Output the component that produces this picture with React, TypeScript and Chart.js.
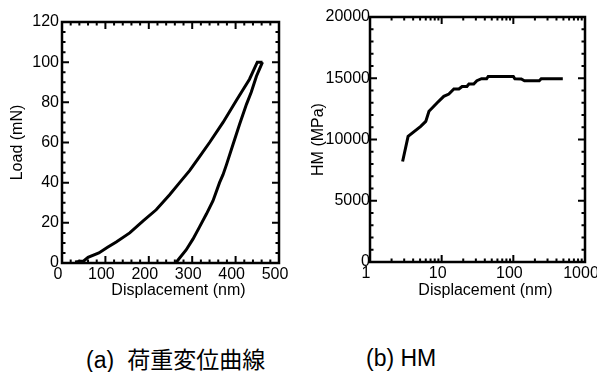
import React, { useEffect, useRef } from "react";
import { Chart, registerables } from "chart.js";
Chart.register(...registerables);

// ---- (a) Load - displacement curve ----
const loadingDisp = [30, 50, 60, 85, 105, 125, 156, 187, 217, 248, 271, 294, 317, 340, 371, 402, 432, 450, 462];
const loadingLoad = [0.5, 1, 2.8, 5, 7.8, 10.5, 15, 21, 26.5, 34, 40, 46, 53, 60, 70, 81, 91.5, 100, 100];
const unloadingDisp = [462, 458, 448, 436, 425, 409, 394, 379, 371, 363, 348, 333, 317, 302, 286, 271, 262];
const unloadingLoad = [100, 98, 93, 85, 79, 69, 59, 49, 44, 40, 31, 24.5, 18, 12, 6.5, 2.5, 0];
const aXTicks = [0, 100, 200, 300, 400, 500];
const aYTicks = [0, 20, 40, 60, 80, 100, 120];

// ---- (b) HM vs displacement ----
const hmDisp = [2.85, 3.4, 5.1, 6.0, 6.65, 8.6, 10.7, 12.6, 14.8, 17.4, 19.3, 22.5, 24, 28, 31, 36, 42.4, 44.6, 100, 105, 129, 143, 230, 245, 490];
const hmValue = [8200, 10250, 11070, 11480, 12300, 12980, 13520, 13710, 14120, 14120, 14330, 14330, 14530, 14530, 14800, 14960, 14960, 15150, 15150, 14960, 14940, 14800, 14800, 14960, 14960];
const bXTicks = [1, 10, 100, 1000];
const bYTicks = [0, 5000, 10000, 15000, 20000];

const xTitle = "Displacement (nm)";
const aYTitle = "Load (mN)";
const bYTitle = "HM (MPa)";
const captionA = ["(a)", "荷重変位曲線"];
const captionB = "(b) HM";

const FONT = '"Liberation Sans", Arial, Helvetica, sans-serif';

function range(a: number, b: number, step: number) {
  const out: number[] = [];
  for (let v = a; v <= b + 1e-9; v += step) out.push(v);
  return out;
}
function logMinor(decades: number[]) {
  const out: number[] = [];
  decades.slice(0, -1).forEach((d) => {
    for (let k = 2; k <= 9; k++) out.push(d * k);
  });
  return out;
}

const frameTicks = {
  id: "frameTicks",
  afterDatasetsDraw(chart: any, _args: any, opts: any) {
    const { ctx, chartArea: a } = chart;
    const xs = chart.scales.x;
    const ys = chart.scales.y;
    ctx.save();
    ctx.strokeStyle = "#000";
    ctx.lineWidth = 2;
    ctx.beginPath();
    const tx = (vals: number[], len: number) =>
      vals.forEach((v) => {
        const p = xs.getPixelForValue(v);
        ctx.moveTo(p, a.bottom);
        ctx.lineTo(p, a.bottom - len);
        ctx.moveTo(p, a.top);
        ctx.lineTo(p, a.top + len);
      });
    const ty = (vals: number[], len: number) =>
      vals.forEach((v) => {
        const p = ys.getPixelForValue(v);
        ctx.moveTo(a.left, p);
        ctx.lineTo(a.left + len, p);
        ctx.moveTo(a.right, p);
        ctx.lineTo(a.right - len, p);
      });
    tx(opts.xMajor, 7);
    tx(opts.xMinor, 3.5);
    ty(opts.yMajor, 7);
    ty(opts.yMinor, 3.5);
    ctx.stroke();
    ctx.lineWidth = 2.5;
    ctx.strokeRect(a.left, a.top, a.right - a.left, a.bottom - a.top);
    // x-axis title (slightly right of centre, as in the original figure)
    ctx.fillStyle = "#000";
    ctx.font = `16px ${FONT}`;
    ctx.textAlign = "center";
    ctx.textBaseline = "middle";
    ctx.fillText(opts.xTitle, (a.left + a.right) / 2 + 8, 291);
    ctx.restore();
  },
};

const tickFont = { family: FONT, size: 16 };

function makeA(canvas: HTMLCanvasElement) {
  return new Chart(canvas, {
    type: "line",
    data: {
      datasets: [
        {
          data: loadingDisp.map((x, i) => ({ x, y: loadingLoad[i] })),
          borderColor: "#000",
          borderWidth: 3,
          pointRadius: 0,
          tension: 0,
        },
        {
          data: unloadingDisp.map((x, i) => ({ x, y: unloadingLoad[i] })),
          borderColor: "#000",
          borderWidth: 3,
          pointRadius: 0,
          tension: 0,
        },
      ],
    },
    options: {
      animation: false,
      responsive: false,
      devicePixelRatio: 1,
      layout: { padding: { left: 0, top: 22, right: 21, bottom: 0 } },
      plugins: {
        legend: { display: false },
        tooltip: { enabled: false },
        frameTicks: {
          xMajor: aXTicks,
          xMinor: range(0, 500, 20),
          yMajor: aYTicks,
          yMinor: range(0, 120, 5),
          xTitle,
        },
      } as any,
      scales: {
        x: {
          type: "linear",
          min: 0,
          max: 500,
          afterBuildTicks: (s: any) => {
            s.ticks = aXTicks.map((v) => ({ value: v }));
          },
          afterFit: (s: any) => {
            s.height = 37;
            s.paddingLeft = 0;
            s.paddingRight = 0;
          },
          grid: { display: false, drawTicks: false },
          border: { display: false },
          ticks: {
            padding: 2,
            labelOffset: -4,
            maxRotation: 0,
            color: "#000",
            font: tickFont,
            callback: (v: any) => String(v),
          },
          title: { display: false },
        },
        y: {
          type: "linear",
          min: 0,
          max: 120,
          afterBuildTicks: (s: any) => {
            s.ticks = aYTicks.map((v) => ({ value: v }));
          },
          afterFit: (s: any) => {
            s.width = 62;
            s.paddingTop = 0;
            s.paddingBottom = 0;
          },
          grid: { display: false, drawTicks: false },
          border: { display: false },
          ticks: {
            padding: 3,
            color: "#000",
            font: tickFont,
            callback: (v: any) => String(v),
          },
          title: {
            display: true,
            text: aYTitle,
            color: "#000",
            font: { family: FONT, size: 16 },
            padding: { top: 8, bottom: 0 },
          },
        },
      },
    },
    plugins: [frameTicks],
  } as any);
}

function makeB(canvas: HTMLCanvasElement) {
  return new Chart(canvas, {
    type: "line",
    data: {
      datasets: [
        {
          data: hmDisp.map((x, i) => ({ x, y: hmValue[i] })),
          borderColor: "#000",
          borderWidth: 3,
          pointRadius: 0,
          tension: 0,
        },
      ],
    },
    options: {
      animation: false,
      responsive: false,
      devicePixelRatio: 1,
      layout: { padding: { left: 0, top: 17, right: 12, bottom: 0 } },
      plugins: {
        legend: { display: false },
        tooltip: { enabled: false },
        frameTicks: {
          xMajor: bXTicks,
          xMinor: logMinor(bXTicks),
          yMajor: bYTicks,
          yMinor: range(0, 20000, 1000),
          xTitle,
        },
      } as any,
      scales: {
        x: {
          type: "logarithmic",
          min: 1,
          max: 1000,
          afterBuildTicks: (s: any) => {
            s.ticks = bXTicks.map((v) => ({ value: v }));
          },
          afterFit: (s: any) => {
            s.height = 38;
            s.paddingLeft = 0;
            s.paddingRight = 0;
          },
          grid: { display: false, drawTicks: false },
          border: { display: false },
          ticks: {
            padding: 2,
            labelOffset: -4,
            maxRotation: 0,
            autoSkip: false,
            color: "#000",
            font: tickFont,
            callback: (v: any) => String(v),
          },
          title: { display: false },
        },
        y: {
          type: "linear",
          min: 0,
          max: 20000,
          afterBuildTicks: (s: any) => {
            s.ticks = bYTicks.map((v) => ({ value: v }));
          },
          afterFit: (s: any) => {
            s.width = 70;
            s.paddingTop = 0;
            s.paddingBottom = 0;
          },
          grid: { display: false, drawTicks: false },
          border: { display: false },
          ticks: {
            padding: 0,
            color: "#000",
            font: tickFont,
            callback: (v: any) => String(v),
          },
          title: {
            display: true,
            text: bYTitle,
            color: "#000",
            font: { family: FONT, size: 16 },
            padding: { top: 9, bottom: 0 },
          },
        },
      },
    },
    plugins: [frameTicks],
  } as any);
}

export default function App() {
  const refA = useRef<HTMLCanvasElement>(null);
  const refB = useRef<HTMLCanvasElement>(null);
  useEffect(() => {
    const a = makeA(refA.current!);
    const b = makeB(refB.current!);
    return () => {
      a.destroy();
      b.destroy();
    };
  }, []);
  return (
    <div
      style={{
        position: "absolute",
        left: 0,
        top: 0,
        width: 597,
        height: 372,
        overflow: "hidden",
        background: "#fff",
      }}
    >
      <canvas ref={refA} width={300} height={300} style={{ position: "absolute", left: 0, top: 0 }} />
      <canvas ref={refB} width={297} height={300} style={{ position: "absolute", left: 300, top: 0 }} />
      <div
        style={{
          position: "absolute",
          left: 86,
          top: 343,
          lineHeight: "30px",
          fontFamily: FONT,
          fontSize: 23,
          color: "#000",
          whiteSpace: "pre",
        }}
      >
        <span>{captionA[0]}</span>
        <span style={{ fontFamily: '"Noto Sans CJK JP", sans-serif', fontSize: 23, marginLeft: 13 }}>{captionA[1]}</span>
      </div>
      <div
        style={{
          position: "absolute",
          left: 366,
          top: 343,
          lineHeight: "30px",
          fontFamily: FONT,
          fontSize: 23,
          color: "#000",
          whiteSpace: "pre",
        }}
      >
        {captionB}
      </div>
    </div>
  );
}
